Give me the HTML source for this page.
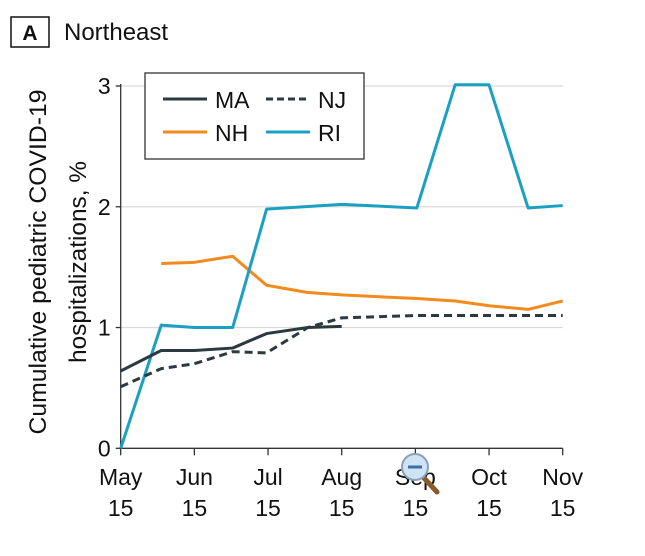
<!DOCTYPE html>
<html><head><meta charset="utf-8"><style>
body{margin:0;background:#fff;}
svg text{font-family:"Liberation Sans Narrow","Liberation Sans",sans-serif;fill:#111;}
</style></head><body>
<svg id="chart" width="645" height="551" viewBox="0 0 645 551">
  <g>
    <rect x="11" y="17" width="38" height="30" fill="#fff" stroke="#111" stroke-width="1.5"/>
    <text x="30" y="40" font-size="21" font-weight="bold" text-anchor="middle">A</text>
    <text x="64" y="40" font-size="24">Northeast</text>
  </g>
  <g id="grid"></g>
  <g id="axes"></g>
  <g id="series"></g>
  <g transform="translate(0,262) rotate(-90)">
    <text x="0" y="46" font-size="24" text-anchor="middle" textLength="345" lengthAdjust="spacingAndGlyphs">Cumulative pediatric COVID-19</text>
    <text x="0" y="86" font-size="24" text-anchor="middle" textLength="202" lengthAdjust="spacingAndGlyphs">hospitalizations, %</text>
  </g>
  <g>
    <rect x="145" y="73" width="219" height="86" fill="#fff" stroke="#333" stroke-width="1.3"/>
    <line x1="163" y1="99" x2="207" y2="99" stroke="#2b3a3e" stroke-width="3"/>
    <text x="215" y="108" font-size="23">MA</text>
    <line x1="266" y1="99" x2="310" y2="99" stroke="#2b3a3e" stroke-width="3" stroke-dasharray="7,4"/>
    <text x="318" y="108" font-size="23">NJ</text>
    <line x1="163" y1="132" x2="207" y2="132" stroke="#f28a1e" stroke-width="3"/>
    <text x="215" y="141" font-size="23">NH</text>
    <line x1="266" y1="132" x2="310" y2="132" stroke="#1ba0c4" stroke-width="3"/>
    <text x="318" y="141" font-size="23">RI</text>
  </g>
  <g>
    <line x1="424" y1="478" x2="437" y2="492" stroke="#8a5a2b" stroke-width="5" stroke-linecap="round"/>
    <circle cx="415" cy="467" r="13" fill="#cfe3f5" stroke="#8aa0b8" stroke-width="2"/>
    <line x1="408" y1="467" x2="422" y2="467" stroke="#3d6fa8" stroke-width="3"/>
  </g>
</svg>
<script>
const monthTicks = [0,1,2,3,4,5,6];
const monthLabels = ["May","Jun","Jul","Aug","Sep","Oct","Nov"];
const yTicks = [0,1,2,3];
const maX = [0,0.55,1,1.52,1.98,2.54,3];
const maY = [0.64,0.81,0.81,0.83,0.95,1.0,1.01];
const njX = [0,0.55,1,1.52,1.98,2.54,3,4.02,4.54,5,5.53,6];
const njY = [0.51,0.66,0.70,0.80,0.79,1.0,1.08,1.10,1.10,1.10,1.10,1.10];
const nhX = [0.55,1,1.52,1.98,2.54,3,4.02,4.54,5,5.53,6];
const nhY = [1.53,1.54,1.59,1.35,1.29,1.27,1.24,1.22,1.18,1.15,1.22];
const riX = [0,0.55,1,1.52,1.98,3,4.02,4.54,5,5.53,6];
const riY = [0,1.02,1.0,1.0,1.98,2.02,1.99,3.01,3.01,1.99,2.01];

const NS="http://www.w3.org/2000/svg";
const x0=120.7, x1=562.7, y0=448.3, y3=86;
const xs=v=>x0+(x1-x0)*v/6;
const ys=v=>y0-(y0-y3)*v/3;
function mk(tag,attrs,parent){const e=document.createElementNS(NS,tag);for(const k in attrs)e.setAttribute(k,attrs[k]);parent.appendChild(e);return e;}
const grid=document.getElementById('grid'),axes=document.getElementById('axes'),series=document.getElementById('series');
yTicks.forEach(t=>{
  if(t>0){const g=mk('line',{x1:x0,x2:x1,y1:ys(t),y2:ys(t),stroke:'#d9d9d9','stroke-width':1.3},grid);
  
  }
  const tk=mk('line',{x1:x0-5,x2:x0,y1:ys(t),y2:ys(t),stroke:'#333','stroke-width':1.3},axes);
  
  
  const tx=mk('text',{x:x0-10,y:ys(t)+8,'font-size':23,'text-anchor':'end'},axes);
  tx.textContent=t;
  
  
});
const ya=mk('line',{x1:x0,x2:x0,y1:y3-2,y2:y0,stroke:'#333','stroke-width':1.3},axes);


const xa=mk('line',{x1:x0,x2:x1,y1:y0,y2:y0,stroke:'#333','stroke-width':1.3},axes);


monthTicks.forEach((m,i)=>{
  const tk=mk('line',{x1:xs(m),x2:xs(m),y1:y0,y2:y0+7,stroke:'#333','stroke-width':1.3},axes);
  
  
  const a=mk('text',{x:xs(m),y:485,'font-size':23,'text-anchor':'middle'},axes);
  a.textContent=monthLabels[i];
  
  
  const b=mk('text',{x:xs(m),y:516,'font-size':23,'text-anchor':'middle'},axes);
  b.textContent='15';
  
  
});
function line(X,Y,color,dash,name){
  const p=mk('polyline',{points:X.map((x,i)=>xs(x)+','+ys(Y[i])).join(' '),fill:'none',stroke:color,'stroke-width':3,'stroke-linejoin':'round'},series);
  if(dash)p.setAttribute('stroke-dasharray',dash);
  
  
}
line(nhX,nhY,'#f28a1e',null,'line-nh');
line(riX,riY,'#1ba0c4',null,'line-ri');
line(njX,njY,'#2b3a3e','8,5','line-nj');
line(maX,maY,'#2b3a3e',null,'line-ma');
</script>
</body></html>
